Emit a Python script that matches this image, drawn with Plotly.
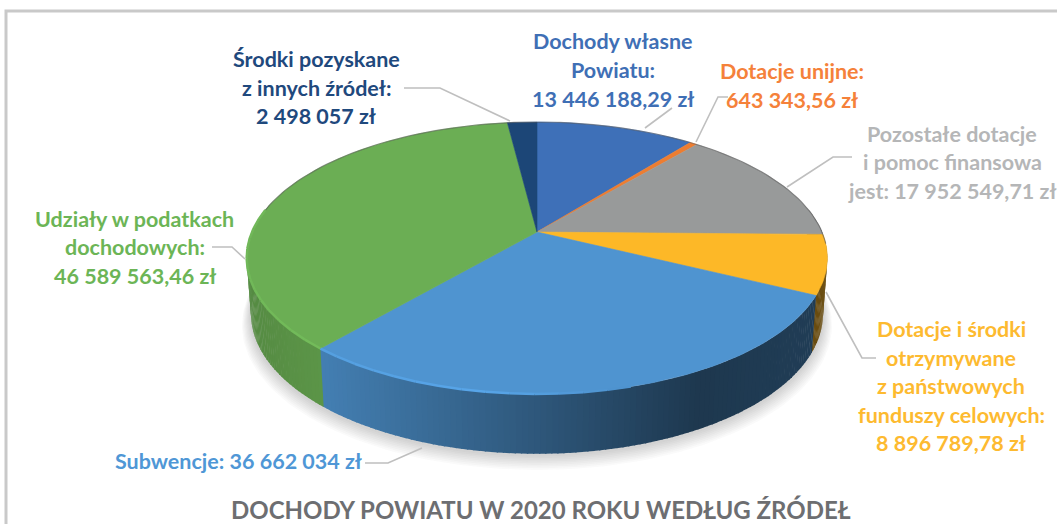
import numpy as np
import plotly.graph_objects as go

# ---- data, clockwise from 12 o'clock ----
categories = ["Dochody własne Powiatu", "Dotacje unijne", "Pozostałe dotacje i pomoc finansowa",
              "Dotacje i środki otrzymywane z państwowych funduszy celowych", "Subwencje",
              "Udziały w podatkach dochodowych", "Środki pozyskane z innych źródeł"]
values = [13446188.29, 643343.56, 17952549.71, 8896789.78, 36662034, 46589563.46, 2498057]
colors = ["#3e70b8", "#ed7d31", "#989a9a", "#fdb827", "#4f94d0", "#6bae54", "#1c4677"]
title = "DOCHODY POWIATU W 2020 ROKU WEDŁUG ŹRÓDEŁ"

FONT = "Lato"
W, H = 1057, 524
CX, CY, R, S, K = 537, 232, 285, 131, 0.191   # perspective projection of the disc
DEPTH, BOTTOM_X, BOTTOM_Y = 55, 0.985, 1.03


def project(theta):
    u, v = np.sin(theta), np.cos(theta)
    d = 1 + K * v
    return CX + R * u / d, CY - S * v / d


def project_bottom(theta, grow=1.0, dy=0.0):
    x, y = project(theta)
    return CX + (x - CX) * BOTTOM_X * grow, CY + (y - CY) * BOTTOM_Y * grow + DEPTH + dy


def rgb(hexc):
    return np.array([int(hexc[i:i + 2], 16) for i in (1, 3, 5)], float)


def css(c):
    c = np.clip(c, 0, 255).astype(int)
    return f"rgb({c[0]},{c[1]},{c[2]})"


fig = go.Figure()


def poly(x, y, fill, line=None, lw=0):
    fig.add_trace(go.Scatter(x=list(x), y=list(y), mode="lines", fill="toself", fillcolor=fill,
                             line=dict(color=line or "rgba(0,0,0,0)", width=lw),
                             hoverinfo="skip", showlegend=False))


# frame
fig.add_trace(go.Scatter(x=[6, 6, W + 5], y=[H + 5, 11, 11], mode="lines",
                         line=dict(color="#c9c9c9", width=3), hoverinfo="skip", showlegend=False))

# soft shadow
all_t = np.linspace(0, 2 * np.pi, 241)
for i in range(9):
    sx, sy = project_bottom(all_t, grow=1.0 + 0.0035 * (9 - i), dy=1 + 1.1 * (9 - i))
    poly(sx, sy, "rgba(60,60,60,0.028)")

# slice boundaries computed from the values
fractions = np.array(values) / np.sum(values)
edges = np.concatenate([[0], np.cumsum(fractions)]) * 2 * np.pi

# walls
wall_x = [245, 320, 530, 700, 830]
wall_f = [0.80, 0.86, 0.60, 0.38, 0.42]
for a, b, col in zip(edges[:-1], edges[1:], colors):
    lo, hi = max(a, np.radians(80)), min(b, np.radians(282))
    if hi <= lo:
        continue
    n = max(1, int(np.degrees(hi - lo)))
    ts = np.linspace(lo, hi, n + 1)
    base = rgb(col)
    for t0, t1 in zip(ts[:-1], ts[1:]):
        tt = np.array([t0, t1 + 0.004])
        x1, y1 = project(tt)
        x2, y2 = project_bottom(tt[::-1])
        f = np.interp(x1.mean(), wall_x, wall_f)
        c = css(base * f)
        poly(np.r_[x1, x2, x1[0]], np.r_[y1, y2, y1[0]], c)

# top faces
for a, b, col in zip(edges[:-1], edges[1:], colors):
    ts = np.linspace(a, b, max(3, int(np.degrees(b - a)) + 2))
    x, y = project(ts)
    poly(np.r_[CX, x, CX], np.r_[CY, y, CY], col, col, 0.6)

# back rim outline
bt = np.radians(np.linspace(-95, 95, 120))
bx, by = project(bt)
fig.add_trace(go.Scatter(x=bx, y=by, mode="lines", line=dict(color="rgba(90,90,90,0.55)", width=1.2),
                         hoverinfo="skip", showlegend=False))

# lighter bevel along the front rim
for a, b, col in zip(edges[:-1], edges[1:], colors):
    lo, hi = max(a, np.radians(100)), min(b, np.radians(280))
    if hi <= lo:
        continue
    n = max(1, int(np.degrees(hi - lo) / 4))
    ts = np.linspace(lo, hi, n + 1)
    base = rgb(col)
    for t0, t1 in zip(ts[:-1], ts[1:]):
        tt = np.linspace(t0, t1, 3)
        x, y = project(tt)
        m = np.interp(x.mean(), [245, 480, 640], [1.06, 1.12, 0.98])
        if x.mean() > 640:
            continue
        fig.add_trace(go.Scatter(x=x, y=y, mode="lines", line=dict(color=css(base * m), width=2.5),
                                 hoverinfo="skip", showlegend=False))

# leader lines
leaders = [
    ([404, 440, 510], [88, 88, 121]),
    ([645, 672], [128, 108]),
    ([696, 718, 728], [142, 97, 97]),
    ([787, 833, 852], [187, 157, 157]),
    ([212, 232, 245], [247, 247, 259]),
    ([365, 388, 422], [463, 463, 448]),
    ([826, 862, 876], [292, 358, 358]),
]
for lx, ly in leaders:
    fig.add_trace(go.Scatter(x=lx, y=ly, mode="lines", line=dict(color="#bfbfbf", width=1.6),
                             hoverinfo="skip", showlegend=False))

# labels
labels = [
    (316, [59, 88, 116], ["Środki pozyskane", "z innych źródeł:", "2 498 057 zł"], "#1f497d"),
    (612.5, [41, 70, 99], ["Dochody własne", "Powiatu:", "13 446 188,29 zł"], "#3f6fb5"),
    (792, [71, 100], ["Dotacje unijne:", "643 343,56 zł"], "#f5813a"),
    (952, [134, 162, 191], ["Pozostałe dotacje", "i pomoc finansowa", "jest: 17 952 549,71 zł"], "#b5b6b7"),
    (134.5, [219, 247, 276], ["Udziały w podatkach", "dochodowych:", "46 589 563,46 zł"], "#6cb556"),
    (238, [461], ["Subwencje: 36 662 034 zł"], "#4f97d6"),
    (951, [329, 358, 386, 415, 443],
     ["Dotacje i środki", "otrzymywane", "z państwowych", "funduszy celowych:", "8 896 789,78 zł"], "#fdba30"),
]
ann = []
for cx, ys, lines, c in labels:
    for y, line in zip(ys, lines):
        ann.append(dict(x=cx, y=y, text=f"<b>{line}</b>", showarrow=False, xanchor="center", yanchor="middle",
                        font=dict(family=FONT, size=21.5, color=c)))
ann.append(dict(x=541, y=509.5, text=f"<b>{title}</b>", showarrow=False, xanchor="center", yanchor="middle",
                font=dict(family=FONT, size=24, color="#6d6e71")))

fig.update_layout(
    width=W, height=H, autosize=False,
    margin=dict(l=0, r=0, t=0, b=0),
    paper_bgcolor="white", plot_bgcolor="white",
    xaxis=dict(range=[0, W], visible=False, fixedrange=True),
    yaxis=dict(range=[H, 0], visible=False, fixedrange=True),
    annotations=ann, showlegend=False,
)
fig.write_html("out.html", config=dict(displayModeBar=False),
               post_script="document.body.style.margin='0';document.body.style.overflow='hidden';")
